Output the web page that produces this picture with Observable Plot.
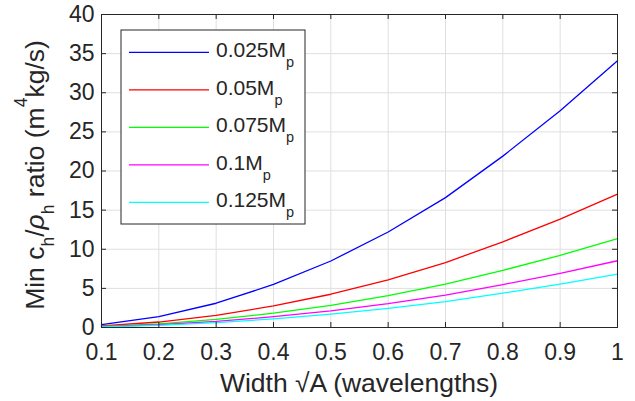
<!DOCTYPE html>
<html>
<head>
<meta charset="utf-8">
<script src="https://cdn.jsdelivr.net/npm/d3@7"></script>
<script src="https://cdn.jsdelivr.net/npm/@observablehq/plot@0.6"></script>
<style>
  html, body { margin: 0; padding: 0; background: #fff; }
  #chart { width: 635px; height: 401px; }
</style>
</head>
<body>
<div id="chart"></div>
<script>
// ---- data ----
const widths = [0.1, 0.2, 0.3, 0.4, 0.5, 0.6, 0.7, 0.8, 0.9, 1.0];
const seriesLabels = ["0.025", "0.05", "0.075", "0.1", "0.125"];
const seriesColors = ["#0000ff", "#ff0000", "#00ff00", "#ff00ff", "#00ffff"];
const s0025 = [0.38, 1.40, 3.10, 5.50, 8.50, 12.20, 16.60, 21.90, 27.70, 34.10];
const s005  = [0.19, 0.70, 1.55, 2.75, 4.25, 6.10, 8.30, 10.95, 13.85, 17.05];
const s0075 = [0.13, 0.47, 1.03, 1.83, 2.83, 4.07, 5.53, 7.30, 9.23, 11.37];
const s01   = [0.10, 0.35, 0.78, 1.38, 2.13, 3.05, 4.15, 5.48, 6.93, 8.53];
const s0125 = [0.08, 0.28, 0.62, 1.10, 1.70, 2.44, 3.32, 4.38, 5.54, 6.82];
const xTicks = [0.1, 0.2, 0.3, 0.4, 0.5, 0.6, 0.7, 0.8, 0.9, 1];
const yTicks = [0, 5, 10, 15, 20, 25, 30, 35, 40];

const allSeries = [s0025, s005, s0075, s01, s0125];
const rows = [];
allSeries.forEach((vals, i) => vals.forEach((v, j) => rows.push({x: widths[j], y: v, s: seriesLabels[i]})));

// ---- layout ----
const W = 635, H = 401, mL = 101, mR = 18, mT = 14, mB = 74;
const plotW = W - mL - mR, plotH = H - mT - mB;
const tickLen = 5;
const ink = "#262626";
const font = "'Liberation Sans', Arial, Helvetica, sans-serif";
const tickFs = 23, xLabelFs = 26.5, yLabelFs = 26.5, legendFs = 21;

const chart = Plot.plot({
  width: W, height: H,
  marginLeft: mL, marginRight: mR, marginTop: mT, marginBottom: mB,
  style: {fontFamily: font, fontSize: tickFs + "px", background: "#fff", color: ink},
  x: {domain: [0.1, 1], label: null},
  y: {domain: [0, 40], label: null},
  color: {domain: seriesLabels, range: seriesColors},
  marks: [
    Plot.gridX(xTicks, {stroke: "#dfdfdf", strokeOpacity: 1, strokeWidth: 1}),
    Plot.gridY(yTicks, {stroke: "#dfdfdf", strokeOpacity: 1, strokeWidth: 1}),
    Plot.line(rows, {x: "x", y: "y", z: "s", stroke: "s", strokeWidth: 1.3}),
    Plot.frame({stroke: ink, strokeWidth: 1}),
    Plot.ruleX(xTicks, {x: d => d, insetBottom: plotH - tickLen, stroke: ink}),
    Plot.ruleX(xTicks, {x: d => d, insetTop: plotH - tickLen, stroke: ink}),
    Plot.ruleY(yTicks, {y: d => d, insetRight: plotW - tickLen, stroke: ink}),
    Plot.ruleY(yTicks, {y: d => d, insetLeft: plotW - tickLen, stroke: ink}),
    Plot.axisX(xTicks, {tickSize: 0, tickPadding: 16, fontSize: tickFs, label: null, tickFormat: d => String(d), fill: ink}),
    Plot.axisY(yTicks, {tickSize: 0, tickPadding: 7, fontSize: tickFs, label: null, tickFormat: d => String(d), fill: ink})
  ]
});
document.getElementById("chart").appendChild(chart);

const svg = d3.select(chart);
svg.selectAll('g[aria-label$="tick label"]').attr("font-size", tickFs).style("font-size", tickFs + "px");

// x axis label
svg.append("text")
  .attr("x", mL + plotW / 2).attr("y", 392)
  .attr("text-anchor", "middle")
  .attr("font-family", font).attr("font-size", xLabelFs).attr("fill", ink)
  .text("Width \u221AA (wavelengths)");

// y axis label with sub/superscripts
const yl = svg.append("text")
  .attr("transform", `translate(43.5,175) rotate(-90)`)
  .attr("text-anchor", "middle")
  .attr("font-family", font).attr("font-size", yLabelFs).attr("fill", ink);
const subFs = 17.5;
const lblParts = [
  ["Min c", 0, yLabelFs, "normal"], ["h", 10.5, subFs, "normal"], ["/", -10.5, yLabelFs, "normal"],
  ["\u03C1", 0, yLabelFs, "italic"], ["h", 10.5, subFs, "normal"],
  [" ratio (m", -10.5, yLabelFs, "normal"], ["4", -17, subFs, "normal"], ["kg/s)", 17, yLabelFs, "normal"]
];
lblParts.forEach(([t, shift, fs, st]) => {
  yl.append("tspan").attr("font-size", fs).attr("font-style", st).attr("dy", shift).text(t);
});

// legend
const lg = svg.append("g");
lg.append("rect").attr("x", 121).attr("y", 30).attr("width", 184).attr("height", 194)
  .attr("fill", "#fff").attr("stroke", ink).attr("stroke-width", 1);
seriesLabels.forEach((lab, i) => {
  const yy = 52.3 + i * 37.5;
  lg.append("line").attr("x1", 129).attr("x2", 209).attr("y1", yy).attr("y2", yy)
    .attr("stroke", seriesColors[i]).attr("stroke-width", 1.3);
  const t = lg.append("text").attr("x", 216).attr("y", yy + 5)
    .attr("text-anchor", "start")
    .attr("font-family", font).attr("font-size", legendFs).attr("fill", ink);
  t.append("tspan").text(lab + "M");
  t.append("tspan").attr("font-size", 14.5).attr("dy", 10).text("p");
});
</script>
</body>
</html>
